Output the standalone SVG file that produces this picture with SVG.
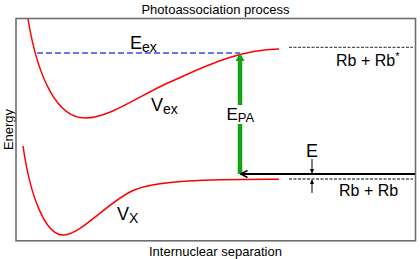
<svg xmlns="http://www.w3.org/2000/svg" width="420" height="259" viewBox="0 0 420 259">
<style>
  text { font-family: "Liberation Sans", Arial, sans-serif; fill: #000; }
  .frame { fill: none; stroke: #6e6e6e; stroke-width: 1.6; }
  .curve { fill: none; stroke: #f00; stroke-width: 1.5; }
  .asym { fill: none; stroke: #555; stroke-width: 1.3; stroke-dasharray: 3 1.5; }
  .lvl { fill: none; stroke: #3a4de0; stroke-width: 1.5; stroke-dasharray: 6 3; }
  .pa { fill: none; stroke: #13a313; stroke-width: 4.5; }
  .bind { fill: none; stroke: #000; stroke-width: 2; }
  .small { fill: none; stroke: #000; stroke-width: 1; }
  .big { font-size: 18px; }
  .sub { font-size: 14px; }
  .lab { font-size: 13px; }
  .rb { font-size: 16px; }
</style>
<defs>
  <marker id="greenHead" viewBox="0 0 8 9" refX="0" refY="4.5" markerWidth="8" markerHeight="9" markerUnits="userSpaceOnUse" orient="auto">
    <path d="M0,0 L8,4.5 L0,9 Z" fill="#13a313"/>
  </marker>
  <marker id="smallHead" viewBox="0 0 5 4" refX="0" refY="2" markerWidth="5" markerHeight="4" markerUnits="userSpaceOnUse" orient="auto">
    <path d="M0,0 L5,2 L0,4 Z" fill="#000"/>
  </marker>
  <marker id="chevron" viewBox="0 0 8 8" refX="7.5" refY="4" markerWidth="8" markerHeight="8" markerUnits="userSpaceOnUse" orient="auto-start-reverse">
    <path d="M0.5,0.5 L7.5,4 L0.5,7.5" fill="none" stroke="#000" stroke-width="1.5"/>
  </marker>
</defs>

<text class="lab" x="215.5" y="13.5" text-anchor="middle">Photoassociation process</text>
<text class="lab" x="215.5" y="255.5" text-anchor="middle">Internuclear separation</text>
<text class="lab" transform="translate(13,129.5) rotate(-90)" text-anchor="middle">Energy</text>

<rect class="frame" x="16" y="18.5" width="399.5" height="222.3"/>

<g id="excited-curve">
  <path class="curve" d="M28,19 C38,80 58,118 85,118 C110,118 140,95 170,82 C200,69 235,50 279,49"/>
  <text x="151" y="111"><tspan class="big">V</tspan><tspan class="sub" dy="2.5">ex</tspan></text>
</g>

<g id="ground-curve">
  <path class="curve" d="M23,146 C30,195 45,235 63,235 C80,235 105,205 130,192 C155,179 220,179.5 279,179.3"/>
  <text x="117" y="220"><tspan class="big">V</tspan><tspan class="sub" dy="3">X</tspan></text>
</g>

<g id="excited-level">
  <line class="lvl" x1="37" y1="53" x2="240" y2="53"/>
  <text x="130" y="49"><tspan class="big">E</tspan><tspan class="sub" dy="3">ex</tspan></text>
</g>

<g id="asymptote-excited">
  <line class="asym" x1="289" y1="47.3" x2="413" y2="47.3"/>
  <text class="rb" x="336" y="66">Rb + Rb<tspan font-size="11" dy="-6">*</tspan></text>
</g>

<g id="asymptote-ground">
  <line class="asym" x1="289" y1="179" x2="413" y2="179"/>
  <text class="rb" x="339" y="196">Rb + Rb</text>
</g>

<g id="connectors">
  <line class="pa" x1="240" y1="174" x2="240" y2="61" marker-end="url(#greenHead)"/>
  <line class="bind" x1="415" y1="174" x2="240.5" y2="174" marker-end="url(#chevron)"/>
  <line class="small" x1="312" y1="159" x2="312" y2="169" marker-end="url(#smallHead)"/>
  <line class="small" x1="312" y1="193" x2="312" y2="184" marker-end="url(#smallHead)"/>
</g>

<g id="label-EPA">
  <rect x="226" y="105" width="30" height="19" fill="#fff"/>
  <text x="226.5" y="120"><tspan font-size="17">E</tspan><tspan font-size="13" dy="2">PA</tspan></text>
</g>

<g id="label-E">
  <text x="306" y="156.5" font-size="18">E</text>
</g>
</svg>
